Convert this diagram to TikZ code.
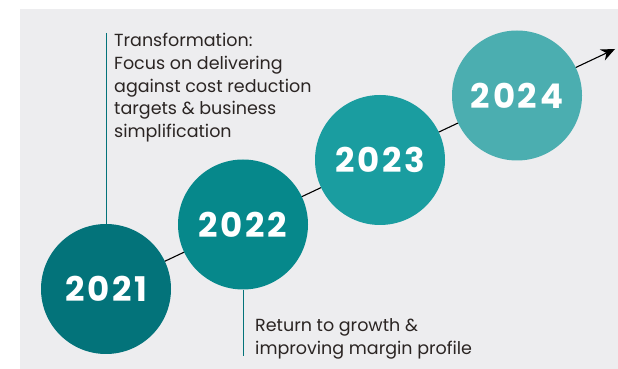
\documentclass[tikz,border=0pt]{standalone}
\usepackage{fontspec}
\setmainfont{Poppins}
\usetikzlibrary{positioning,calc,arrows.meta,backgrounds}

\definecolor{panelgray}{HTML}{EDEDEF}
\definecolor{teal21}{HTML}{03737A}
\definecolor{teal22}{HTML}{06888B}
\definecolor{teal23}{HTML}{1A9DA0}
\definecolor{teal24}{HTML}{4BAEB0}
\definecolor{notetext}{HTML}{2B2523}

\begin{document}
\begin{tikzpicture}[x=1pt,y=1pt,on grid,
    year/.style={circle,minimum size=130pt,inner sep=0pt,text=white,
        font=\fontsize{34}{34}\selectfont\bfseries\addfontfeatures{LetterSpace=8}},
    note/.style={align=left,inner sep=0pt,text=notetext,
        font=\fontsize{17.5}{22.75}\selectfont},
    stem/.style={draw=teal21,line width=0.9pt}]
    \useasboundingbox (0,0) rectangle (618,369);

    % Define nodes
    \node[year,fill=teal21] (Y21) at (106,80) {2021};
    \node[year,fill=teal22] (Y22) [above right=64.5pt and 137pt of Y21] {2022};
    \node[year,fill=teal23] (Y23) [above right=64.5pt and 137pt of Y22] {2023};
    \node[year,fill=teal24] (Y24) [above right=64.5pt and 137pt of Y23] {2024};
    \coordinate (tip) at (615,320);

    \coordinate (top21) at (Y21.north |- 0,336);
    \coordinate (bot22) at (Y22.south |- 0,13);
    \node[note,anchor=north west] (N21) at ($(top21)+(8,0)$)
        {Transformation:\\Focus on delivering\\against cost reduction\\targets \& business\\simplification};
    \node[note,anchor=north west] (N22) at ($(Y22.south)+(12,-29)$)
        {Return to growth \&\\improving margin profile};

    % Draw lines
    \begin{scope}[on background layer]
        \fill[panelgray] (20,0) rectangle (618,360);
        \draw[line width=1.1pt,-{Stealth[length=14pt,width=12pt]}] (Y21.center) -- (tip);
    \end{scope}
    \draw[stem] (top21) -- (Y21.north);
    \draw[stem] (Y22.south) -- (bot22);
\end{tikzpicture}
\end{document}
